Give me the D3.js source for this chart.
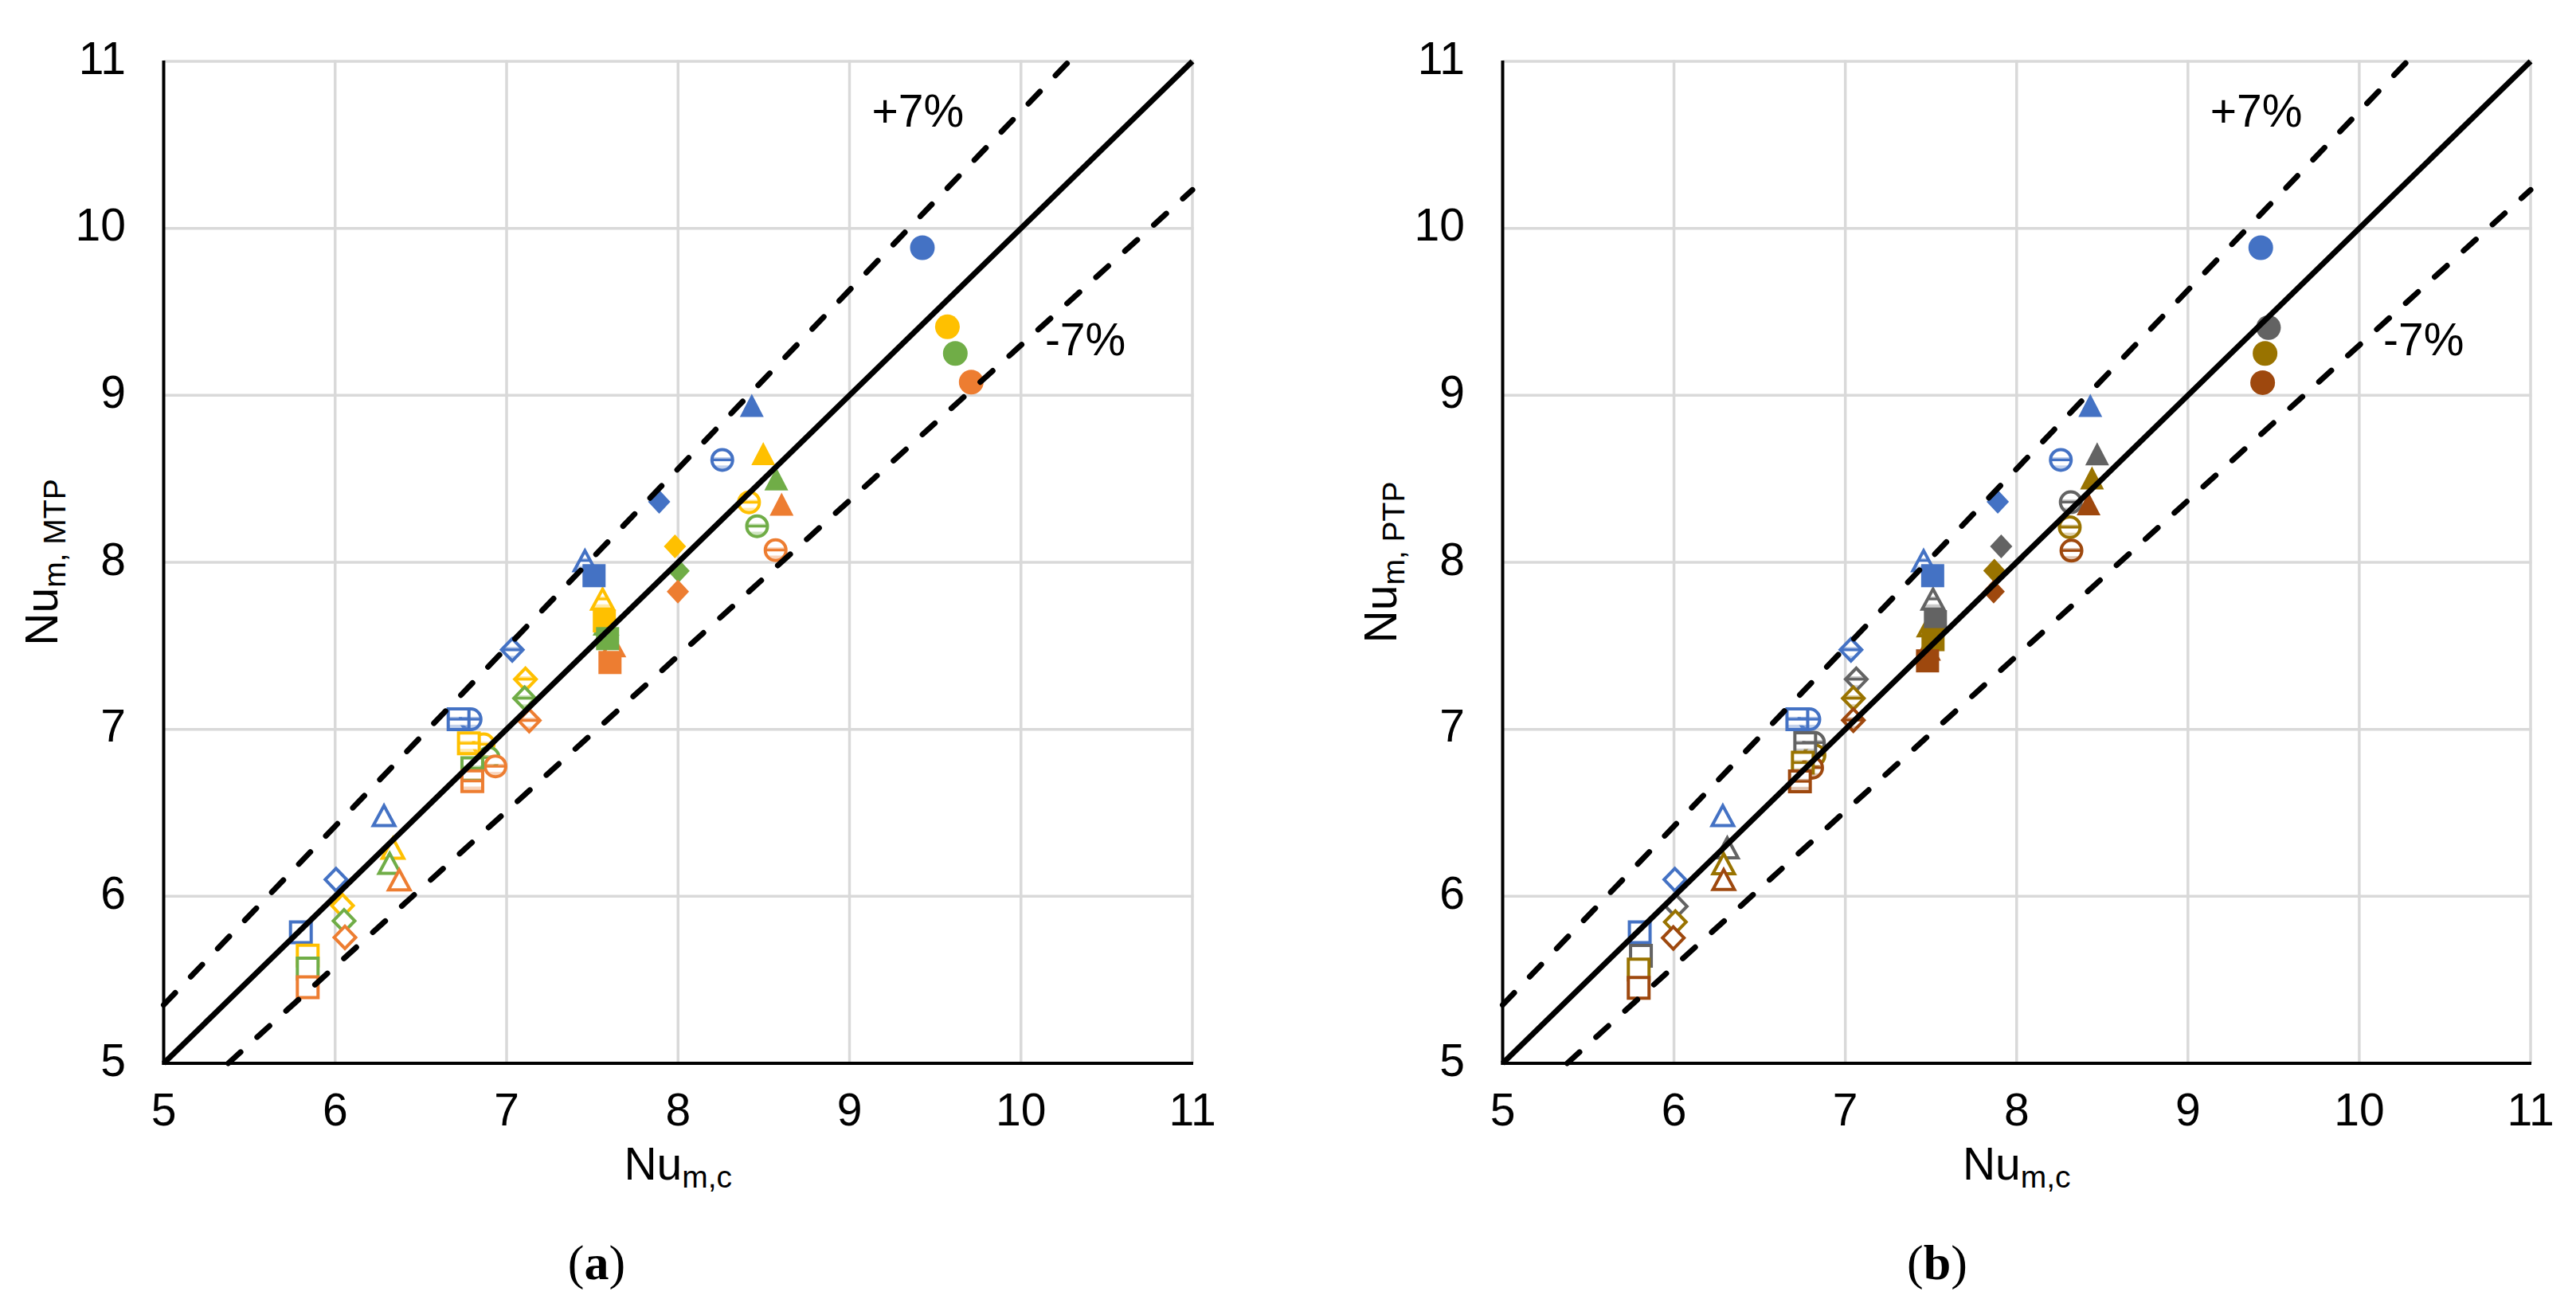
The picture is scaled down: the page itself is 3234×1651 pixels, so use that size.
<!DOCTYPE html>
<html>
<head>
<meta charset="utf-8">
<script src="https://cdn.jsdelivr.net/npm/d3@7"></script>
<style>
  html, body { margin: 0; padding: 0; background: #ffffff; }
  svg { display: block; }
</style>
</head>
<body>
<script>
// ---------------- DATA ----------------
const xTicks = [5, 6, 7, 8, 9, 10, 11];
const yTicks = [5, 6, 7, 8, 9, 10, 11];

// 12 marker groups (shape, filled, banded-gradient open marker)
const groupShape  = ["square","diamond","triangle","circle","square","diamond","triangle","square","diamond","circle","triangle","circle"];
const groupFilled = [false,false,false,false,false,false,false,true,true,false,true,true];
const groupBanded = [false,false,false,true,true,true,true,false,false,true,false,false];

// Blue series (same in both panels)
const blueX = [5.80, 6.005, 6.285, 6.79, 6.72, 7.033, 7.457, 7.51, 7.89, 8.258, 8.43, 9.425];
const blueY = [5.785, 6.10, 6.483, 7.06, 7.06, 7.476, 8.01, 7.92, 8.362, 8.613, 8.94, 9.884];

// Panel (a) — MTP
const yellowX = [5.84, 6.043, 6.337, 6.866, 6.78, 7.11, 7.56, 7.57, 7.982, 8.414, 8.497, 9.571];
const yellowY = [5.645, 5.944, 6.288, 6.91, 6.916, 7.30, 7.78, 7.649, 8.095, 8.359, 8.651, 9.41];
const greenX  = [5.84, 6.052, 6.318, 6.895, 6.80, 7.105, 7.58, 7.589, 8.003, 8.461, 8.573, 9.617];
const greenY  = [5.568, 5.853, 6.197, 6.83, 6.767, 7.186, 7.63, 7.543, 7.949, 8.216, 8.50, 9.251];
const orangeX = [5.84, 6.057, 6.374, 6.935, 6.80, 7.132, 7.62, 7.603, 7.999, 8.569, 8.604, 9.71];
const orangeY = [5.456, 5.754, 6.098, 6.778, 6.69, 7.053, 7.50, 7.40, 7.825, 8.073, 8.348, 9.079];

// Panel (b) — PTP
const grayX  = [5.807, 6.013, 6.311, 6.817, 6.766, 7.064, 7.512, 7.526, 7.91, 8.316, 8.47, 9.47];
const grayY  = [5.644, 5.94, 6.29, 6.92, 6.917, 7.30, 7.78, 7.645, 8.095, 8.36, 8.65, 9.406];
const goldX  = [5.794, 6.008, 6.29, 6.82, 6.752, 7.047, 7.49, 7.512, 7.87, 8.31, 8.44, 9.45];
const goldY  = [5.562, 5.846, 6.195, 6.845, 6.80, 7.186, 7.62, 7.537, 7.95, 8.21, 8.505, 9.251];
const brownX = [5.794, 5.996, 6.29, 6.806, 6.735, 7.047, 7.48, 7.48, 7.866, 8.32, 8.42, 9.436];
const brownY = [5.452, 5.751, 6.10, 6.77, 6.688, 7.055, 7.48, 7.41, 7.825, 8.07, 8.35, 9.076];

// Reference lines: y = k * x
const lineFactors = [1.0, 1.07, 0.93];
const bandLabels = ["+7%", "-7%"];
const bandLabelPos = [[9.13, 10.61], [10.14, 9.24]];

// ---------------- LAYOUT ----------------
const W = 3234, H = 1651;
const yTop = 77, yBot = 1335;
const panels = [
  { x0: 205.5, x1: 1497, sub: "m, MTP", caption: "a", capX: 749,
    series: [["#4472C4", blueX, blueY], ["#FFC000", yellowX, yellowY], ["#70AD47", greenX, greenY], ["#ED7D31", orangeX, orangeY]] },
  { x0: 1886.5, x1: 3177, sub: "m, PTP", caption: "b", capX: 2432,
    series: [["#4472C4", blueX, blueY], ["#636363", grayX, grayY], ["#997300", goldX, goldY], ["#9E480E", brownX, brownY]] }
];

const FONT = "'Liberation Sans', Arial, Helvetica, sans-serif";
const svg = d3.select("body").append("svg").attr("width", W).attr("height", H);
svg.append("rect").attr("width", W).attr("height", H).attr("fill", "#fff");

// banded gradients for "open" markers with stripe fill
const defs = svg.append("defs");
const allColors = ["#4472C4", "#FFC000", "#70AD47", "#ED7D31", "#636363", "#997300", "#9E480E"];
const gradId = c => "band" + c.replace("#", "");
allColors.forEach(c => {
  const lg = defs.append("linearGradient").attr("id", gradId(c))
    .attr("x1", 0).attr("y1", 0).attr("x2", 0).attr("y2", 1);
  [[0, "#fff", 1], [0.36, "#fff", 1], [0.42, c, 0.45], [0.46, c, 1], [0.54, c, 1], [0.58, "#fff", 1],
   [0.74, "#fff", 1], [0.86, c, 0.3], [1, "#fff", 1]].forEach(([o, col, op]) => {
    lg.append("stop").attr("offset", o).attr("stop-color", col).attr("stop-opacity", op);
  });
});

// custom symbol types
function mkType(shape, filled) {
  return { draw(ctx) {
    if (shape === "square") {
      const s = filled ? 14.5 : 13;
      ctx.rect(-s, -s, 2 * s, 2 * s);
    } else if (shape === "diamond") {
      const w = filled ? 14 : 13.5, h = filled ? 15 : 14;
      ctx.moveTo(0, -h); ctx.lineTo(w, 0); ctx.lineTo(0, h); ctx.lineTo(-w, 0); ctx.closePath();
    } else if (shape === "triangle") {
      const w = filled ? 15 : 13.5, h = filled ? 14.5 : 12.5;
      ctx.moveTo(0, -h); ctx.lineTo(w, h); ctx.lineTo(-w, h); ctx.closePath();
    } else {
      const r = filled ? 15.5 : 13;
      ctx.moveTo(r, 0); ctx.arc(0, 0, r, 0, 2 * Math.PI);
    }
  } };
}

panels.forEach(p => {
  const x = d3.scaleLinear().domain([5, 11]).range([p.x0, p.x1]);
  const y = d3.scaleLinear().domain([5, 11]).range([yBot, yTop]);
  const g = svg.append("g");

  // gridlines
  g.append("g").selectAll("line").data(xTicks.slice(1)).join("line")
    .attr("x1", d => x(d)).attr("x2", d => x(d)).attr("y1", yTop - 1.5).attr("y2", yBot)
    .attr("stroke", "#d9d9d9").attr("stroke-width", 3.5);
  g.append("g").selectAll("line").data(yTicks.slice(1)).join("line")
    .attr("y1", d => y(d)).attr("y2", d => y(d)).attr("x1", p.x0).attr("x2", p.x1 + 1.5)
    .attr("stroke", "#d9d9d9").attr("stroke-width", 3.5);

  // tick labels
  g.append("g").selectAll("text").data(yTicks).join("text")
    .attr("x", p.x0 - 47.5).attr("y", d => y(d) + 15.5)
    .attr("text-anchor", "end").attr("font-family", FONT).attr("font-size", 57).attr("fill", "#000")
    .text(d => d);
  g.append("g").selectAll("text").data(xTicks).join("text")
    .attr("x", d => x(d)).attr("y", yBot + 77.5)
    .attr("text-anchor", "middle").attr("font-family", FONT).attr("font-size", 57).attr("fill", "#000")
    .text(d => d);

  // markers (group-major order)
  const pts = [];
  groupShape.forEach((shape, gi) => {
    p.series.forEach(([col, xs, ys]) => {
      pts.push({ shape, filled: groupFilled[gi], banded: groupBanded[gi], col, vx: xs[gi], vy: ys[gi] });
    });
  });
  g.append("g").selectAll("path").data(pts).join("path")
    .attr("transform", d => `translate(${x(d.vx)},${y(d.vy)})`)
    .attr("d", d => d3.symbol(mkType(d.shape, d.filled), 64)())
    .attr("fill", d => d.filled ? d.col : (d.banded ? `url(#${gradId(d.col)})` : "#ffffff"))
    .attr("stroke", d => d.filled ? "none" : d.col)
    .attr("stroke-width", 4);

  // reference lines
  lineFactors.forEach(k => {
    const xa = Math.max(5, 5 / k), xb = Math.min(11, 11 / k);
    g.append("line")
      .attr("x1", x(xa)).attr("y1", y(k * xa)).attr("x2", x(xb)).attr("y2", y(k * xb))
      .attr("stroke", "#000").attr("stroke-width", 7)
      .attr("stroke-linecap", k === 1 ? "butt" : "round")
      .attr("stroke-dasharray", k === 1 ? null : "21 28");
  });

  // axes lines
  g.append("line").attr("x1", p.x0).attr("x2", p.x0).attr("y1", yTop - 1).attr("y2", yBot + 2)
    .attr("stroke", "#000").attr("stroke-width", 4);
  g.append("line").attr("x1", p.x0 - 2).attr("x2", p.x1 + 1).attr("y1", yBot).attr("y2", yBot)
    .attr("stroke", "#000").attr("stroke-width", 4);

  // band labels
  bandLabels.forEach((t, i) => {
    g.append("text").attr("x", x(bandLabelPos[i][0])).attr("y", y(bandLabelPos[i][1]))
      .attr("font-family", FONT).attr("font-size", 57).attr("fill", "#000").text(t);
  });

  // x title
  const xt = g.append("text").attr("x", (p.x0 + p.x1) / 2).attr("y", yBot + 146)
    .attr("text-anchor", "middle").attr("font-family", FONT).attr("font-size", 57).attr("fill", "#000");
  xt.append("tspan").text("Nu");
  xt.append("tspan").attr("font-size", 39).attr("dy", 10).text("m,c");

  // y title
  const yt = g.append("text")
    .attr("transform", `translate(${p.x0 - 133.5},${(yTop + yBot) / 2}) rotate(-90)`)
    .attr("text-anchor", "middle").attr("font-family", FONT).attr("font-size", 57).attr("fill", "#000");
  yt.append("tspan").text("Nu");
  yt.append("tspan").attr("font-size", 39).attr("dy", 10).text(p.sub);

  // caption
  const cap = g.append("text").attr("x", p.capX).attr("y", 1606)
    .attr("text-anchor", "middle").attr("font-family", "'Liberation Serif', 'Times New Roman', serif")
    .attr("font-size", 62).attr("fill", "#000");
  cap.append("tspan").text("(");
  cap.append("tspan").attr("font-weight", "bold").text(p.caption);
  cap.append("tspan").text(")");
});
</script>
</body>
</html>
